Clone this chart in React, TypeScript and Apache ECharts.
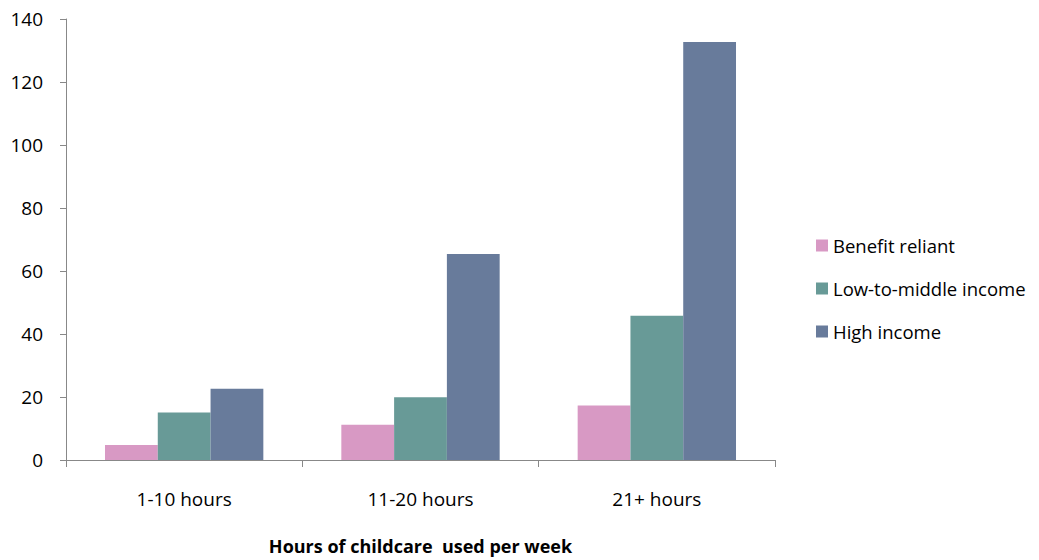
import React, { useEffect, useRef } from "react";
import * as echarts from "echarts";

const categories = ["1-10 hours", "11-20 hours", "21+ hours"];
const benefitReliant = [4.8, 11.2, 17.3];
const lowToMiddle = [15.1, 19.9, 45.8];
const highIncome = [22.6, 65.4, 132.7];
const seriesNames = ["Benefit reliant", "Low-to-middle income", "High income"];
const colors = ["#d899c4", "#689a97", "#687b9b"];
const xAxisTitle = "Hours of childcare  used per week";

const FONT = "'Open Sans', Lato, sans-serif";

export default function App() {
  const ref = useRef<HTMLDivElement>(null);
  useEffect(() => {
    if (!ref.current) return;
    const chart = echarts.init(ref.current, undefined, { renderer: "svg" });
    const data = [benefitReliant, lowToMiddle, highIncome];
    chart.setOption({
      animation: false,
      backgroundColor: "#ffffff",
      textStyle: { fontFamily: FONT },
      grid: { left: 66, right: 264, top: 19, bottom: 99, containLabel: false },
      legend: {
        orient: "vertical",
        left: 811,
        top: 230,
        itemWidth: 12,
        itemHeight: 12,
        itemGap: 22,
        icon: "rect",
        textStyle: { fontSize: 18.5, color: "#000", fontFamily: FONT, lineHeight: 21 },
        data: seriesNames,
      },
      xAxis: {
        type: "category",
        data: categories,
        name: xAxisTitle,
        nameLocation: "middle",
        nameGap: 77,
        nameTextStyle: { fontSize: 18, fontWeight: "bold", color: "#000", fontFamily: FONT },
        axisLine: { lineStyle: { color: "#888", width: 1 } },
        axisTick: { show: true, length: 7, lineStyle: { color: "#888" } },
        axisLabel: { fontSize: 19, color: "#000", margin: 29, fontFamily: FONT },
      },
      yAxis: {
        type: "value",
        min: 0,
        max: 140,
        interval: 20,
        axisLine: { show: true, lineStyle: { color: "#888", width: 1 } },
        axisTick: { show: true, length: 6, lineStyle: { color: "#888" } },
        axisLabel: { fontSize: 19, color: "#000", margin: 23, fontFamily: FONT },
        splitLine: { show: false },
      },
      series: seriesNames.map((name, i) => ({
        name,
        type: "bar",
        data: data[i],
        barGap: "0%",
        barCategoryGap: "33%",
        itemStyle: { color: colors[i] },
      })),
    });
    return () => chart.dispose();
  }, []);
  return <div ref={ref} style={{ width: 1039, height: 560, position: "absolute", left: 0, top: 0 }} />;
}
